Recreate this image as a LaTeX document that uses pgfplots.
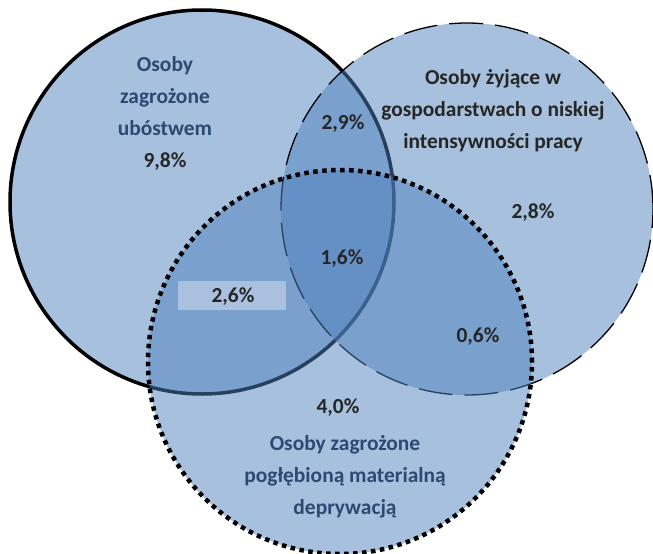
\documentclass[border=0pt]{standalone}
\usepackage{pgfplots}
\pgfplotsset{compat=1.18}
\usepackage{fontspec}
\setmainfont{Carlito}
\definecolor{venn}{HTML}{4F81BD}
\definecolor{titleblue}{HTML}{2A4A73}
\definecolor{numgray}{HTML}{262626}
\definecolor{boxfill}{HTML}{A9C1DF}
\tikzset{lbl/.style={font=\fontsize{21.5}{32}\selectfont\bfseries, align=center, inner sep=0pt}}
\begin{document}
\begin{tikzpicture}
\begin{axis}[
  width=653bp, height=554bp, scale only axis,
  xmin=0, xmax=653, ymin=0, ymax=554, y dir=reverse,
  hide axis, clip=true, clip marker paths=true,
]
% circle centres (pixel coordinates) ; radius as mark size
\addplot[only marks, mark=*, mark size=192bp,
  mark options={fill=venn, fill opacity=0.5, draw=black, line width=3.5bp}]
  coordinates {(202,202)};
\addplot[only marks, mark=*, mark size=186bp,
  mark options={fill=venn, fill opacity=0.5, draw=black, line width=1.3bp,
    double=venn!45!white, double distance=1.8bp, dash pattern=on 34bp off 12bp}]
  coordinates {(467,209)};
\addplot[only marks, mark=*, mark size=192bp,
  mark options={fill=venn, fill opacity=0.5, draw=black, line width=4.5bp,
    dash pattern=on 4.5bp off 4.5bp}]
  coordinates {(340,362)};
% labels
\node[fill=boxfill, minimum width=108bp, minimum height=29bp, inner sep=0pt] at (axis cs:232,295) {};
\node[lbl, text=numgray] at (axis cs:233,297) {2,6\%};
\node[lbl, text=titleblue] at (axis cs:165,96) {Osoby\\zagrożone\\ubóstwem};
\node[lbl, text=numgray] at (axis cs:165,162) {9,8\%};
\node[lbl, text=numgray] at (axis cs:493,111) {Osoby żyjące w\\gospodarstwach o niskiej\\intensywności pracy};
\node[lbl, text=numgray] at (axis cs:343,124) {2,9\%};
\node[lbl, text=numgray] at (axis cs:533,213) {2,8\%};
\node[lbl, text=numgray] at (axis cs:342,259) {1,6\%};
\node[lbl, text=numgray] at (axis cs:478,337) {0,6\%};
\node[lbl, text=numgray] at (axis cs:338,408) {4,0\%};
\node[lbl, text=titleblue] at (axis cs:345,477) {Osoby zagrożone\\pogłębioną materialną\\deprywacją};
\end{axis}
\pgfresetboundingbox
\path[use as bounding box] (current axis.south west) rectangle (current axis.north east);
\end{tikzpicture}
\end{document}
